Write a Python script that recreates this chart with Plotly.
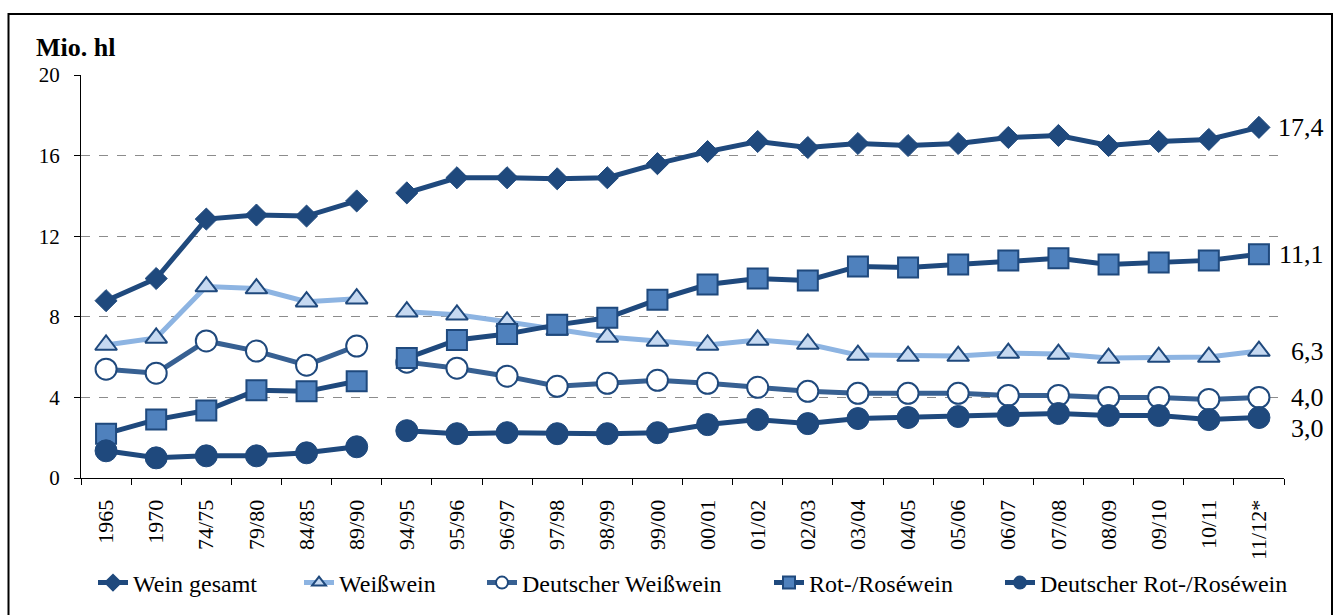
import plotly.graph_objects as go

# Zeitraeume (Kalender- bzw. Wirtschaftsjahre)
periods = ["1965", "1970", "74/75", "79/80", "84/85", "89/90", "94/95", "95/96",
           "96/97", "97/98", "98/99", "99/00", "00/01", "01/02", "02/03", "03/04",
           "04/05", "05/06", "06/07", "07/08", "08/09", "09/10", "10/11", "11/12*"]

# Verbrauch in Mio. hl
wein_gesamt = [8.8, 9.9, 12.85, 13.05, 13.0, 13.75, 14.15, 14.9, 14.9, 14.85, 14.9, 15.6,
               16.2, 16.7, 16.4, 16.6, 16.5, 16.6, 16.9, 17.0, 16.5, 16.7, 16.8, 17.4]
weisswein = [6.6, 6.95, 9.5, 9.4, 8.75, 8.9, 8.25, 8.1, 7.75, 7.35, 7.0, 6.8,
             6.6, 6.85, 6.65, 6.1, 6.05, 6.05, 6.2, 6.15, 5.95, 6.0, 6.0, 6.3]
dt_weisswein = [5.4, 5.2, 6.8, 6.3, 5.6, 6.55, 5.75, 5.45, 5.05, 4.55, 4.7, 4.85,
                4.7, 4.5, 4.3, 4.2, 4.2, 4.2, 4.1, 4.1, 4.0, 4.0, 3.9, 4.0]
rot_rose = [2.2, 2.9, 3.35, 4.35, 4.3, 4.8, 5.95, 6.85, 7.15, 7.6, 7.95, 8.85,
            9.6, 9.9, 9.8, 10.5, 10.45, 10.6, 10.8, 10.9, 10.6, 10.7, 10.8, 11.1]
dt_rot_rose = [1.35, 1.0, 1.1, 1.1, 1.25, 1.55, 2.35, 2.2, 2.25, 2.2, 2.2, 2.25,
               2.65, 2.9, 2.7, 2.95, 3.0, 3.05, 3.1, 3.2, 3.1, 3.1, 2.9, 3.0]

NAVY = "#1F497D"
FONT = "Liberation Serif, Times New Roman, serif"

# Luecke zwischen 89/90 und 94/95: Linie unterbrechen
GAP_AFTER = 5
xs = list(range(GAP_AFTER + 1)) + [GAP_AFTER + 0.5] + list(range(GAP_AFTER + 1, len(periods)))


def with_gap(vals):
    return vals[:GAP_AFTER + 1] + [None] + vals[GAP_AFTER + 1:]


series = [
    ("Wein gesamt", wein_gesamt, NAVY, dict(symbol="diamond", size=17, color=NAVY,
                                            line=dict(color=NAVY, width=1))),
    ("Weißwein", weisswein, "#8DB4E2", dict(symbol="triangle-up", size=19, color="#C6D9F1",
                                           line=dict(color=NAVY, width=2))),
    ("Deutscher Weißwein", dt_weisswein, "#376092", dict(symbol="circle", size=21, color="white",
                                                         line=dict(color=NAVY, width=2))),
    ("Rot-/Roséwein", rot_rose, NAVY, dict(symbol="square", size=20, color="#4F81BD",
                                          line=dict(color=NAVY, width=2))),
    ("Deutscher Rot-/Roséwein", dt_rot_rose, NAVY, dict(symbol="circle", size=22, color=NAVY,
                                                       line=dict(color=NAVY, width=1))),
]

# Textanfang der Legendeneintraege (px) im Original
legend_text_px = [138, 344, 527, 814, 1045]
L, R, T, B = 81, 54, 75, 137
W, H = 1338, 615
pw, ph = W - L - R, H - T - B

fig = go.Figure()
legends = {}
for i, (name, vals, lcolor, marker) in enumerate(series):
    lg = "legend" if i == 0 else f"legend{i + 1}"
    fig.add_trace(go.Scatter(
        x=xs, y=with_gap(vals), name=name, mode="lines+markers",
        line=dict(color=lcolor, width=5), marker=marker,
        connectgaps=False, legend=lg, hoverinfo="skip", showlegend=True
    ))
    legends[lg] = dict(
        orientation="h", x=(legend_text_px[i] - 45 - L) / pw, xanchor="left",
        y=(T + ph - 583) / ph, yanchor="middle", bgcolor="rgba(0,0,0,0)",
        font=dict(family=FONT, size=24, color="black"), itemsizing="constant"
    )

# Endwerte rechts
end_shift = [0, 0, 0, 0, -11]
for (name, vals, _, _), shift in zip(series, end_shift):
    fig.add_annotation(
        x=(1326 - L) / pw, xref="paper", y=vals[-1], yref="y", yshift=shift,
        text=f"{vals[-1]:.1f}".replace(".", ","), showarrow=False,
        xanchor="right", yanchor="middle",
        font=dict(family=FONT, size=26, color="black")
    )

fig.add_annotation(
    x=(34 - L) / pw, xref="paper", y=(T + ph - 48) / ph, yref="paper",
    text="<b>Mio. hl</b>", showarrow=False, xanchor="left", yanchor="middle",
    font=dict(family=FONT, size=26, color="black")
)

# Rahmen um die Grafik
fig.add_shape(
    type="rect", xref="paper", yref="paper",
    x0=(8.5 - L) / pw, x1=(1332 - L) / pw,
    y0=(T + ph - 640) / ph, y1=(T + ph - 14) / ph,
    line=dict(color="black", width=2), layer="below"
)

fig.update_layout(
    width=W, height=H,
    margin=dict(l=L, r=R, t=T, b=B, autoexpand=False),
    plot_bgcolor="white", paper_bgcolor="white",
    font=dict(family=FONT, color="black"),
    showlegend=True,
    **legends
)

fig.update_xaxes(
    range=[-0.5, len(periods) - 0.5],
    tickmode="array", tickvals=list(range(len(periods))), ticktext=periods,
    tickangle=-90, ticks="", ticklabelstandoff=12,
    tickfont=dict(family=FONT, size=22, color="black"),
    showgrid=False, zeroline=False,
    showline=True, linecolor="black", linewidth=1,
    minor=dict(tickmode="array", tickvals=[i - 0.5 for i in range(len(periods) + 1)],
               ticks="outside", ticklen=6, tickcolor="black", tickwidth=1, showgrid=False)
)

fig.update_yaxes(
    range=[0, 20], tickvals=[0, 4, 8, 12, 16, 20],
    ticks="outside", ticklen=6, tickcolor="black", ticklabelstandoff=10,
    tickfont=dict(family=FONT, size=21, color="black"),
    showgrid=True, gridcolor="#8C8C8C", griddash="dash", gridwidth=1,
    zeroline=False, showline=True, linecolor="black", linewidth=1
)

# Seitenrand des Browsers entfernen, damit die Grafik bei (0,0) beginnt
fig.write_html("out.html", config={"displayModeBar": False},
               post_script="document.body.style.margin='0';")
